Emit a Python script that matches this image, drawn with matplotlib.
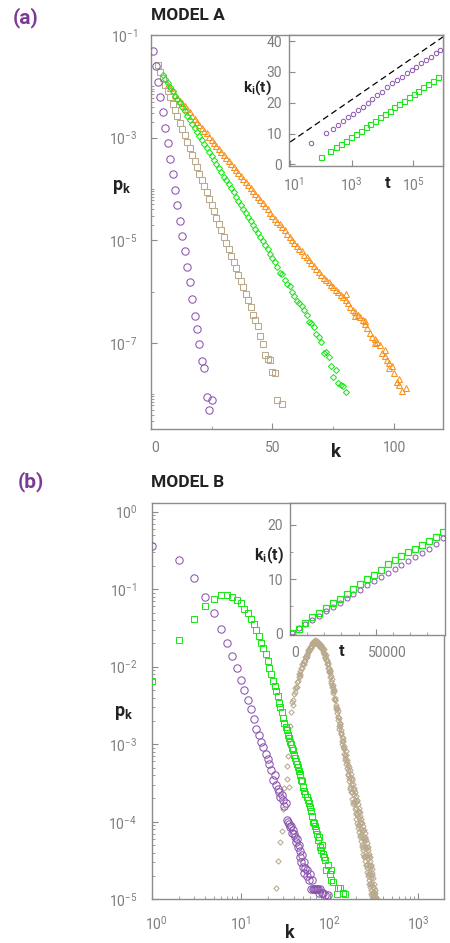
import matplotlib
matplotlib.use("Agg")
import matplotlib.pyplot as plt
import numpy as np
from matplotlib.ticker import FixedLocator, NullFormatter, NullLocator, LogFormatterSciNotation
from matplotlib.transforms import ScaledTranslation

plt.rcParams['font.family'] = ['Roboto', 'DejaVu Sans']
plt.rcParams['mathtext.fontset'] = 'custom'
plt.rcParams['mathtext.rm'] = 'Roboto'
plt.rcParams['mathtext.bf'] = 'Roboto:bold'
plt.rcParams['mathtext.it'] = 'Roboto:italic'

# ---------------- Model A : degree distributions (log10 p_k) ----------------
a_purple_k = list(range(1, 26))
a_purple_logp = [-1.31, -1.60, -1.91, -2.21, -2.51, -2.81, -3.11, -3.42, -3.71, -4.02,
                 -4.31, -4.62, -4.92, -5.21, -5.53, -5.82, -6.15, -6.47, -6.73, -7.02,
                 -7.35, -7.49, -8.06, -8.30, -8.11]

a_tan_k = list(range(3, 53)) + [54]
a_tan_logp = [-1.58, -1.72, -1.84, -1.97, -2.09, -2.21, -2.34, -2.46, -2.58, -2.71,
              -2.83, -2.95, -3.08, -3.20, -3.33, -3.45, -3.57, -3.70, -3.82, -3.94,
              -4.07, -4.19, -4.32, -4.44, -4.56, -4.68, -4.81, -4.93, -5.05, -5.18,
              -5.30, -5.42, -5.55, -5.67, -5.79, -5.92, -6.04, -6.17, -6.30,
              -6.45, -6.55, -6.67, -6.86, -7.02, -7.24, -7.32, -7.33, -7.56, -7.58, -8.11,
              -8.19]

a_green_k = list(range(5, 81))
a_green_logp = [-1.78, -1.86, -1.94, -2.02, -2.10, -2.18, -2.25, -2.33, -2.41, -2.49,
                -2.57, -2.65, -2.73, -2.81, -2.89, -2.97, -3.04, -3.12, -3.20, -3.28,
                -3.36, -3.44, -3.52, -3.60, -3.68, -3.76, -3.83, -3.91, -3.99, -4.07,
                -4.15, -4.23, -4.31, -4.39, -4.47, -4.55, -4.62, -4.70, -4.78, -4.86,
                -4.94, -5.02, -5.10, -5.18, -5.26, -5.34, -5.42, -5.52, -5.63, -5.65,
                -5.77, -5.86, -5.89, -6.00, -6.09, -6.19, -6.22, -6.28, -6.36, -6.45,
                -6.59, -6.62, -6.69, -6.82, -6.89, -6.98, -7.20, -7.18, -7.27, -7.45,
                -7.67, -7.53, -7.79, -7.82, -7.85, -7.95]

a_orange_k = list(range(7, 104)) + [105, 80, 84, 88, 92, 96, 98, 102]
a_orange_logp = [-1.98, -2.04, -2.10, -2.16, -2.22, -2.28, -2.33, -2.39, -2.45, -2.51,
                 -2.57, -2.63, -2.69, -2.75, -2.81, -2.87, -2.92, -2.98, -3.04, -3.10,
                 -3.16, -3.22, -3.28, -3.34, -3.40, -3.46, -3.51, -3.57, -3.63, -3.69,
                 -3.75, -3.81, -3.87, -3.93, -3.99, -4.05, -4.10, -4.16, -4.22, -4.28,
                 -4.34, -4.40, -4.46, -4.52, -4.58, -4.64, -4.69, -4.75, -4.81, -4.87,
                 -4.93, -4.99, -5.05, -5.11, -5.17, -5.22, -5.28, -5.33, -5.39, -5.45,
                 -5.50, -5.56, -5.62, -5.67, -5.73, -5.78, -5.82, -5.87, -5.92, -5.97,
                 -6.01, -6.06, -6.10, -6.17, -6.23, -6.30, -6.36, -6.40, -6.45, -6.50,
                 -6.56, -6.63, -6.71, -6.80, -6.88, -6.92, -6.98, -7.04, -7.20, -7.25,
                 -7.33, -7.40, -7.46, -7.59, -7.76, -7.82, -7.93,
                 -7.89, -6.05, -6.48, -6.58, -7.00, -7.14, -7.50, -7.70]

# Model A inset: k_i(t) versus t
a_in_purple_t = [48, 143, 242, 351, 511, 741, 1076, 1567, 2275, 3304, 4667, 6776, 9863,
                 13677, 19907, 28907, 41976, 61094, 88716, 122462, 177828, 258226,
                 367282, 533335, 736207]
a_in_purple_k = [7.06, 10.11, 11.60, 12.80, 14.20, 15.30, 16.37, 17.67, 18.55, 19.84,
                 21.14, 22.44, 23.61, 25.04, 26.33, 27.40, 28.47, 29.58, 30.65, 31.72,
                 32.82, 33.89, 34.96, 36.07, 37.14]
a_in_green_t = [101, 197, 302, 440, 638, 929, 1349, 1959, 2851, 4018, 5702, 8299, 12050,
                17539, 24155, 34356, 49888, 72444, 103039, 145211, 211349, 306902,
                445656, 648634]
a_in_green_k = [2.32, 4.46, 5.57, 6.64, 7.71, 8.81, 9.88, 10.95, 12.06, 13.13, 14.20,
                15.30, 16.37, 17.44, 18.55, 19.62, 20.69, 21.79, 22.86, 23.93, 25.04,
                26.11, 27.18, 28.28]
a_in_ref_t = [10, 1000000]
a_in_ref_k = [7.27, 41.63]

# ---------------- Model B : degree distributions (log10 p_k) ----------------
b_purple_k = list(range(1, 54)) + [55, 56, 58, 60, 61, 63, 65, 66, 68, 70, 72, 74, 76,
                                   79, 82, 85, 90, 95]
b_purple_logp = [-0.44, -0.62, -0.85, -1.10, -1.31, -1.51, -1.69, -1.86, -2.02, -2.17,
                 -2.30, -2.43, -2.55, -2.67, -2.80, -2.88, -2.97, -3.04, -3.12, -3.19,
                 -3.26, -3.33, -3.46, -3.40, -3.53, -3.58, -3.61, -3.68, -3.66, -3.72,
                 -3.80, -3.76, -3.98, -4.00, -4.03, -4.07, -4.05, -4.14, -4.11, -4.16,
                 -4.20, -4.26, -4.22, -4.33, -4.30, -4.45, -4.38, -4.52, -4.43, -4.58,
                 -4.52, -4.66, -4.60,
                 -4.70, -4.62, -4.75, -4.68, -4.87, -4.75, -4.87, -4.87, -4.87, -4.87,
                 -4.87, -4.87, -4.92, -4.87, -4.92, -4.92, -4.95, -4.95]

b_green_k = list(range(1, 51)) + [52, 53, 55, 57, 58, 60, 62, 63, 65, 66, 68, 70, 72, 75,
                                  77, 78, 80, 82, 85, 87, 89, 92, 95, 100, 103, 105, 110,
                                  120, 125, 131, 142, 150]
b_green_logp = [-2.19, -1.66, -1.38, -1.22, -1.13, -1.08, -1.075, -1.10, -1.14, -1.18,
                -1.25, -1.31, -1.38, -1.45, -1.53, -1.60, -1.69, -1.76, -1.83, -1.92,
                -2.02, -2.10, -2.18, -2.25, -2.31, -2.38, -2.47, -2.52, -2.58, -2.66,
                -2.72, -2.78, -2.82, -2.88, -2.92, -2.97, -3.00, -3.05, -3.08, -3.14,
                -3.18, -3.22, -3.26, -3.29, -3.34, -3.38, -3.40, -3.46, -3.48, -3.55,
                -3.60, -3.64, -3.68, -3.72, -3.76, -3.81, -3.86, -3.92, -4.00, -4.02,
                -4.06, -4.11, -4.16, -4.24, -4.20, -4.32, -4.36, -4.30, -4.41, -4.46,
                -4.49, -4.62, -4.56, -4.67, -4.62, -4.75, -4.78, -4.93, -4.86, -4.86,
                -4.92, -4.93]

# late-time distribution: first sampling
b_tan_k = ([25, 26, 28, 29, 30, 31, 33, 33, 34, 35, 35, 36, 37]
           + list(range(38, 111))
           + [112, 114, 116, 118, 120, 122, 124, 126, 128, 130,
              132, 134, 136, 138, 140, 142, 144, 146, 148, 150,
              152, 155, 157, 160, 162, 165, 167, 170,
              172, 175, 177, 180, 182, 185, 187, 190, 192, 195,
              197, 200, 202, 205, 207, 210, 212, 215, 217, 220,
              222, 225, 227, 230, 232, 235, 237, 240, 242, 245,
              247, 250, 252, 255, 257, 260, 262, 265, 267, 270,
              272, 275, 277, 280, 282, 285, 287, 290, 292, 295,
              297, 300, 303, 305, 308, 310, 313, 316, 320, 325, 330, 338])
b_tan_logp = ([-4.86, -4.50, -4.26, -4.12, -3.83, -3.57, -3.45, -3.28, -3.15, -2.95,
               -3.55, -2.76, -2.58]
              + [-2.46, -2.43, -2.35, -2.33, -2.26, -2.20, -2.19, -2.13, -2.12, -2.06,
                 -2.01, -2.01, -1.96, -1.97, -1.92, -1.88, -1.88, -1.84, -1.85, -1.81,
                 -1.77, -1.78, -1.75, -1.76, -1.73, -1.70, -1.71, -1.68, -1.71, -1.68,
                 -1.66, -1.69, -1.67, -1.70, -1.69, -1.67, -1.71, -1.69, -1.73, -1.72,
                 -1.71, -1.74, -1.73, -1.72, -1.77, -1.76, -1.81, -1.79, -1.77, -1.83,
                 -1.83, -1.88, -1.87, -1.85, -1.91, -1.91, -1.97, -1.96, -1.95, -2.01,
                 -2.01, -2.07, -2.06, -2.04, -2.13, -2.12, -2.21, -2.19, -2.16, -2.26,
                 -2.24, -2.34, -2.31]
              + [-2.31, -2.43, -2.43, -2.55, -2.54, -2.53, -2.65, -2.65, -2.77, -2.76,
                 -2.72, -2.87, -2.86, -3.00, -2.96, -2.92, -3.06, -3.05, -3.18, -3.14,
                 -3.09, -3.25, -3.23, -3.38, -3.33, -3.29, -3.43, -3.42,
                 -3.58, -3.51, -3.43, -3.62, -3.58, -3.75, -3.66, -3.59, -3.76, -3.73,
                 -3.89, -3.82, -3.73, -3.91, -3.86, -4.04, -3.95, -3.87, -4.04, -4.01,
                 -4.17, -4.09, -4.00, -4.18, -4.12, -4.33, -4.21, -4.10, -4.31, -4.24,
                 -4.44, -4.33, -4.21, -4.44, -4.35, -4.56, -4.44, -4.33, -4.55, -4.48,
                 -4.67, -4.56, -4.44, -4.67, -4.59, -4.80, -4.68, -4.57, -4.79, -4.72,
                 -4.92, -4.81, -4.69, -4.91, -4.84, -4.98, -4.90, -4.80, -4.96, -4.88,
                 -4.97, -4.99])

# late-time distribution: second sampling
b_tan2_k = [39, 41, 43, 45, 47, 49, 51, 53, 55, 57, 59, 62, 66, 70, 74, 78, 82, 86, 90,
            94, 98, 102, 106, 109,
            111, 113, 115, 117, 119, 121, 123, 125, 127, 129,
            131, 133, 135, 137, 139, 141, 143, 145, 147, 149,
            153, 156, 158, 161, 163, 166, 168, 171, 173, 176,
            178, 181, 183, 186, 188, 191, 193, 196, 198, 201,
            203, 206, 208, 211, 213, 216, 218, 221, 223, 226,
            228, 231, 233, 236, 238, 241, 243, 246, 248, 251,
            253, 256, 258, 261, 263, 266, 268, 271, 273, 276,
            278, 281, 283, 286, 288, 291, 293, 296, 298, 301,
            304, 306, 309, 312, 315, 318, 322, 327, 333]
b_tan2_logp = [-2.50, -2.27, -2.26, -2.10, -2.09, -1.97, -1.93, -1.92, -1.87, -1.79,
               -1.80, -1.75, -1.67, -1.70, -1.68, -1.75, -1.74, -1.82, -1.89, -1.92,
               -2.05, -2.08, -2.23, -2.27,
               -2.30, -2.42, -2.40, -2.52, -2.49, -2.60, -2.57, -2.69, -2.66, -2.80,
               -2.74, -2.86, -2.82, -2.96, -2.90, -3.04, -2.96, -3.12, -3.02, -3.20,
               -3.14, -3.31, -3.20, -3.40, -3.27, -3.48, -3.33, -3.55, -3.38, -3.62,
               -3.46, -3.70, -3.51, -3.77, -3.56, -3.83, -3.61, -3.90, -3.67, -3.96,
               -3.72, -4.02, -3.77, -4.08, -3.82, -4.13, -3.87, -4.19, -3.92, -4.25,
               -3.97, -4.30, -4.02, -4.36, -4.06, -4.41, -4.10, -4.46, -4.15, -4.51,
               -4.19, -4.56, -4.23, -4.60, -4.28, -4.65, -4.32, -4.70, -4.37, -4.75,
               -4.41, -4.80, -4.46, -4.84, -4.51, -4.88, -4.56, -4.93, -4.61, -4.96,
               -4.66, -4.99, -4.72, -4.98, -4.85, -4.93, -4.97, -4.92, -4.98]

# Model B inset: k_i(t) versus t (linear axes)
b_in_t = [1000, 5000, 9000, 13000, 17000, 21000, 25000, 29000, 33000, 37000, 41000,
          45000, 49000, 53000, 57000, 61000, 65000, 69000, 73000, 77000, 81000, 85000,
          89000]
b_in_green_k = [0.18, 0.91, 2.00, 3.03, 3.76, 4.67, 5.58, 6.36, 7.27, 8.18, 9.03, 10.00,
                10.79, 11.70, 12.73, 13.52, 14.24, 14.97, 15.58, 16.30, 16.97, 17.76, 18.61]
b_in_purple_k = [0.15, 0.95, 1.72, 2.50, 3.30, 4.12, 4.88, 5.70, 6.45, 7.25, 8.05, 8.90,
                 9.62, 10.35, 11.10, 11.88, 12.58, 13.30, 14.05, 14.80, 15.60, 16.45, 17.45]

# ---------------- styling ----------------
PURPLE = '#8a53ae'
GREEN = '#1de61d'
TAN = '#b9aa8e'
ORANGE = '#f7921f'
SPINE = '#8c8c8c'
TICK_TXT = '#7d7d7d'
PANEL_PURPLE = '#7b3a96'
TITLE = '#222222'

W, H = 450.0, 943.0
fig = plt.figure(figsize=(W / 100, H / 100), dpi=100)
fig.patch.set_facecolor('white')


def box(left, top, right, bottom):
    return [left / W, 1 - bottom / H, (right - left) / W, (bottom - top) / H]


def style(ax, xpad, ypad):
    for s in ax.spines.values():
        s.set_color(SPINE)
        s.set_linewidth(1.0)
    ax.tick_params(which='both', direction='in', color=SPINE, labelcolor=TICK_TXT,
                   labelsize=10, top=False, right=False)
    ax.tick_params(axis='x', which='both', pad=xpad)
    ax.tick_params(axis='y', which='both', pad=ypad)
    ax.tick_params(which='major', length=4, width=0.8)
    ax.tick_params(which='minor', length=2.2, width=0.6)


def shift_first_xlabel(ax, dx_px):
    lab = ax.get_xticklabels()[0]
    lab.set_transform(lab.get_transform() + ScaledTranslation(dx_px / 100, 0, fig.dpi_scale_trans))


def pts(ax, x, logy, marker, ms, color, mew=0.75, z=2):
    ax.plot(x, np.power(10.0, logy), ls='none', marker=marker, ms=ms, mfc='none',
            mec=color, mew=mew, zorder=z)


# ---------------- panel (a) ----------------
axA = fig.add_axes(box(150.7, 35, 443, 429))
axA.set_yscale('log')
axA.set_xlim(0, 120)
axA.set_ylim(10 ** -8.68, 1e-1)
pts(axA, a_orange_k, a_orange_logp, '^', 4.8, ORANGE, z=2)
pts(axA, a_tan_k, a_tan_logp, 's', 4.3, TAN, z=3)
pts(axA, a_green_k, a_green_logp, 'D', 3.1, GREEN, z=4)
pts(axA, a_purple_k, a_purple_logp, 'o', 5.3, PURPLE, z=5)
axA.yaxis.set_major_locator(FixedLocator([1e-7, 1e-5, 1e-3, 1e-1]))
axA.yaxis.set_major_formatter(LogFormatterSciNotation())
a_minor = [1e-2, 1e-4, 1e-6, 1e-8] + [n * 1e-3 for n in range(2, 10)] \
    + [n * 1e-5 for n in range(2, 10)] + [n * 1e-9 for n in range(2, 10)]
axA.yaxis.set_minor_locator(FixedLocator(a_minor))
axA.yaxis.set_minor_formatter(NullFormatter())
axA.set_xticks([0, 50, 100])
axA.xaxis.set_minor_locator(FixedLocator([25, 75]))
style(axA, xpad=9, ypad=9.5)
shift_first_xlabel(axA, 4)

insA = fig.add_axes(box(289, 35, 443, 166))
insA.set_facecolor('white')
insA.set_xscale('log')
insA.set_xlim(10 ** 0.964, 10 ** 5.964)
insA.set_ylim(-0.5, 42)
insA.plot(a_in_ref_t, a_in_ref_k, color='black', lw=0.9, dashes=(5, 3), zorder=2)
insA.plot(a_in_purple_t, a_in_purple_k, ls='none', marker='o', ms=3.2, mfc='none',
          mec=PURPLE, mew=0.7, zorder=3)
insA.plot(a_in_green_t, a_in_green_k, ls='none', marker='s', ms=3.6, mfc='none',
          mec=GREEN, mew=0.8, zorder=3)
insA.xaxis.set_major_locator(FixedLocator([1e1, 1e3, 1e5]))
insA.xaxis.set_major_formatter(LogFormatterSciNotation())
insA.xaxis.set_minor_locator(NullLocator())
insA.set_yticks([0, 10, 20, 30, 40])
style(insA, xpad=7, ypad=5)
shift_first_xlabel(insA, 4)

# ---------------- panel (b) ----------------
axB = fig.add_axes(box(151.7, 502.7, 444, 899.3))
axB.set_xscale('log')
axB.set_yscale('log')
axB.set_xlim(0.992, 1946)
axB.set_ylim(1e-5, 10 ** 0.116)
pts(axB, b_tan_k, b_tan_logp, 'D', 2.7, TAN, mew=0.75, z=2)
pts(axB, b_tan2_k, b_tan2_logp, 'D', 2.7, TAN, mew=0.75, z=2)
pts(axB, b_purple_k, b_purple_logp, 'o', 5.3, PURPLE, z=3)
pts(axB, b_green_k, b_green_logp, 's', 4.3, GREEN, z=4)
axB.xaxis.set_major_locator(FixedLocator([1, 10, 100, 1000]))
axB.xaxis.set_major_formatter(LogFormatterSciNotation())
axB.xaxis.set_minor_locator(FixedLocator([n * 10.0 ** e for e in range(0, 4) for n in range(2, 10)]))
axB.xaxis.set_minor_formatter(NullFormatter())
axB.yaxis.set_major_locator(FixedLocator([1e-5, 1e-4, 1e-3, 1e-2, 1e-1, 1]))
axB.yaxis.set_major_formatter(LogFormatterSciNotation())
axB.yaxis.set_minor_locator(FixedLocator([n * 10.0 ** e for e in range(-5, 0) for n in range(2, 10)]))
axB.yaxis.set_minor_formatter(NullFormatter())
style(axB, xpad=11, ypad=10.5)
shift_first_xlabel(axB, 4.5)

insB = fig.add_axes(box(290, 502.7, 445, 635))
insB.set_facecolor('white')
insB.set_xlim(0, 90400)
insB.set_ylim(-0.25, 24)
insB.plot(b_in_t, b_in_purple_k, ls='none', marker='o', ms=3.6, mfc='none',
          mec=PURPLE, mew=0.7, zorder=3)
insB.plot(b_in_t, b_in_green_k, ls='none', marker='s', ms=3.8, mfc='none',
          mec=GREEN, mew=0.9, zorder=4)
insB.set_xticks([0, 50000])
insB.set_xticklabels(['0', '50000'])
insB.xaxis.set_minor_locator(FixedLocator([10000, 20000, 30000, 40000, 60000, 70000, 80000]))
insB.set_yticks([0, 10, 20])
insB.yaxis.set_minor_locator(FixedLocator([5, 15]))
style(insB, xpad=8, ypad=5)
for lab, dx in zip(insB.get_xticklabels(), [5, 12]):
    lab.set_transform(lab.get_transform() + ScaledTranslation(dx / 100, 0, fig.dpi_scale_trans))

# ---------------- labels ----------------
def ftext(x_px, y_px, s, **kw):
    fig.text(x_px / W, 1 - y_px / H, s, **kw)


ftext(13, 18, '(a)', color=PANEL_PURPLE, fontsize=15, fontweight='bold', va='center', ha='left')
ftext(151, 16, 'MODEL A', color=TITLE, fontsize=12.5, fontweight='bold', va='center', ha='left')
ftext(18, 481.5, '(b)', color=PANEL_PURPLE, fontsize=15, fontweight='bold', va='center', ha='left')
ftext(151, 482.5, 'MODEL B', color=TITLE, fontsize=12.5, fontweight='bold', va='center', ha='left')

ftext(112, 190, r'$\mathbf{p_k}$', color=TITLE, fontsize=13, ha='left', va='baseline')
ftext(335.5, 457, 'k', color=TITLE, fontsize=13.5, fontweight='bold', ha='center', va='baseline')
ftext(257, 92, r'$\mathbf{k_i(t)}$', color=TITLE, fontsize=11, ha='center', va='baseline')
ftext(387.5, 188, 't', color=TITLE, fontsize=12, fontweight='bold', ha='center', va='baseline')

ftext(114, 716, r'$\mathbf{p_k}$', color=TITLE, fontsize=13, ha='left', va='baseline')
ftext(290, 942, 'k', color=TITLE, fontsize=13, fontweight='bold', ha='center', va='bottom')
ftext(269, 560, r'$\mathbf{k_i(t)}$', color=TITLE, fontsize=11.5, ha='center', va='baseline')
ftext(341.7, 656.5, 't', color=TITLE, fontsize=12, fontweight='bold', ha='center', va='baseline')

fig.savefig('out.png', dpi=100, facecolor='white')
